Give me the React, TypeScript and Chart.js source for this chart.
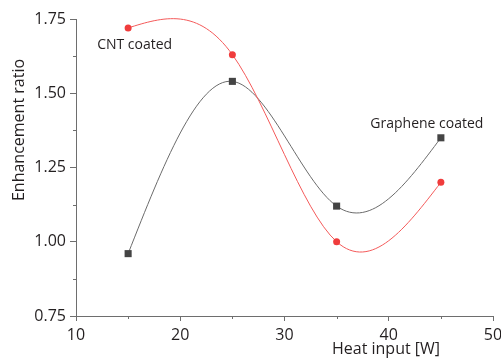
import React, { useEffect, useRef } from 'react';
import { Chart, registerables } from 'chart.js';

Chart.register(...registerables);

// ---- data ----
const heatInput = [15, 25, 35, 45];
const grapheneCoated = [0.96, 1.54, 1.12, 1.35];
const cntCoated = [1.72, 1.63, 1.0, 1.2];
const seriesNames = ['Graphene coated', 'CNT coated'];
const xTicks = [10, 20, 30, 40, 50];
const yTicks = [0.75, 1.0, 1.25, 1.5, 1.75];
const xMinorTicks = [15, 25, 35, 45];
const yMinorTicks = [0.875, 1.125, 1.375, 1.625];
const xTitle = 'Heat input [W]';
const yTitle = 'Enhancement ratio';

const FONT = "'Open Sans', 'Noto Sans', sans-serif";
const TEXT = '#231f20';
const AXIS = '#6e6e6e';
const lineColors = ['#6b6b6b', '#f45a5a'];
const pointColors = ['#444444', '#f03c3c'];

function naturalSplinePath(ctx: CanvasRenderingContext2D, pts: { x: number; y: number }[]) {
  const n = pts.length;
  if (n < 2) return;
  const h: number[] = [];
  for (let i = 0; i < n - 1; i++) h.push(pts[i + 1].x - pts[i].x);
  const M = new Array(n).fill(0);
  const m = n - 2;
  if (m > 0) {
    const a: number[] = [], b: number[] = [], c: number[] = [], d: number[] = [];
    for (let i = 1; i < n - 1; i++) {
      a.push(h[i - 1]);
      b.push(2 * (h[i - 1] + h[i]));
      c.push(h[i]);
      d.push(6 * ((pts[i + 1].y - pts[i].y) / h[i] - (pts[i].y - pts[i - 1].y) / h[i - 1]));
    }
    for (let i = 1; i < m; i++) {
      const w = a[i] / b[i - 1];
      b[i] -= w * c[i - 1];
      d[i] -= w * d[i - 1];
    }
    const sol = new Array(m).fill(0);
    for (let i = m - 1; i >= 0; i--) {
      sol[i] = (d[i] - (i < m - 1 ? c[i] * sol[i + 1] : 0)) / b[i];
    }
    for (let i = 0; i < m; i++) M[i + 1] = sol[i];
  }
  ctx.moveTo(pts[0].x, pts[0].y);
  for (let i = 0; i < n - 1; i++) {
    const hi = h[i];
    const s = (pts[i + 1].y - pts[i].y) / hi;
    const d0 = s - (hi * (2 * M[i] + M[i + 1])) / 6;
    const d1 = s + (hi * (M[i] + 2 * M[i + 1])) / 6;
    ctx.bezierCurveTo(
      pts[i].x + hi / 3, pts[i].y + (d0 * hi) / 3,
      pts[i + 1].x - hi / 3, pts[i + 1].y - (d1 * hi) / 3,
      pts[i + 1].x, pts[i + 1].y
    );
  }
}

const splinePlugin = {
  id: 'naturalSpline',
  beforeDatasetsDraw(chart: any) {
    const ctx = chart.ctx as CanvasRenderingContext2D;
    chart.data.datasets.forEach((_ds: any, i: number) => {
      const meta = chart.getDatasetMeta(i);
      const pts = meta.data.map((p: any) => ({ x: p.x, y: p.y }));
      ctx.save();
      ctx.beginPath();
      naturalSplinePath(ctx, pts);
      ctx.strokeStyle = lineColors[i];
      ctx.lineWidth = 1;
      ctx.stroke();
      ctx.restore();
    });
  },
};

const decorPlugin = {
  id: 'decor',
  afterDraw(chart: any) {
    const ctx = chart.ctx as CanvasRenderingContext2D;
    const xs = chart.scales.x;
    const ys = chart.scales.y;
    const area = chart.chartArea;
    ctx.save();
    // minor ticks
    ctx.strokeStyle = AXIS;
    ctx.lineWidth = 1;
    ctx.beginPath();
    xMinorTicks.forEach((v) => {
      const px = Math.round(xs.getPixelForValue(v)) + 0.5;
      ctx.moveTo(px, area.bottom);
      ctx.lineTo(px, area.bottom + 3);
    });
    yMinorTicks.forEach((v) => {
      const py = Math.round(ys.getPixelForValue(v)) + 0.5;
      ctx.moveTo(area.left, py);
      ctx.lineTo(area.left - 3, py);
    });
    ctx.stroke();

    // series labels
    ctx.fillStyle = TEXT;
    ctx.font = `14px ${FONT}`;
    ctx.textBaseline = 'middle';
    const gx = xs.getPixelForValue(heatInput[3]);
    const gy = ys.getPixelForValue(grapheneCoated[3]);
    ctx.textAlign = 'center';
    ctx.fillText(seriesNames[0], gx - 14, gy - 14);
    const cx = xs.getPixelForValue(heatInput[0]);
    const cy = ys.getPixelForValue(cntCoated[0]);
    ctx.textAlign = 'left';
    ctx.fillText(seriesNames[1], cx - 31, cy + 17);

    // axis titles
    ctx.font = `16px ${FONT}`;
    ctx.textAlign = 'center';
    ctx.fillText(xTitle, area.right - 107, area.bottom + 33);
    ctx.translate(19.5, area.top + 111);
    ctx.rotate(-Math.PI / 2);
    ctx.fillText(yTitle, 0, 0);
    ctx.restore();
  },
};

export default function App() {
  const ref = useRef<HTMLCanvasElement>(null);
  useEffect(() => {
    if (!ref.current) return;
    const chart = new Chart(ref.current, {
      type: 'scatter',
      data: {
        datasets: [
          {
            label: seriesNames[0],
            data: heatInput.map((x, i) => ({ x, y: grapheneCoated[i] })),
            showLine: false,
            pointStyle: 'rect',
            pointRadius: 5,
            pointBackgroundColor: pointColors[0],
            pointBorderColor: pointColors[0],
            pointBorderWidth: 0,
          },
          {
            label: seriesNames[1],
            data: heatInput.map((x, i) => ({ x, y: cntCoated[i] })),
            showLine: false,
            pointStyle: 'circle',
            pointRadius: 3.5,
            pointBackgroundColor: pointColors[1],
            pointBorderColor: pointColors[1],
            pointBorderWidth: 0,
          },
        ],
      },
      options: {
        animation: false,
        responsive: false,
        devicePixelRatio: 1,
        layout: { padding: { top: 19, right: 8, left: 0, bottom: 0 } },
        plugins: { legend: { display: false }, tooltip: { enabled: false } },
        scales: {
          x: {
            type: 'linear',
            min: 10,
            max: 50,
            afterBuildTicks: (s: any) => {
              s.ticks = xTicks.map((v) => ({ value: v }));
            },
            afterFit: (s: any) => {
              s.height = 44;
              s.paddingLeft = 0;
              s.paddingRight = 0;
            },
            ticks: {
              font: { family: FONT, size: 16 },
              color: TEXT,
              padding: 5,
              maxRotation: 0,
              callback: (v: any) => String(v),
            },
            grid: { drawOnChartArea: false, drawTicks: true, tickLength: 5, color: AXIS, tickColor: AXIS },
            border: { display: true, color: AXIS, width: 1 },
          },
          y: {
            type: 'linear',
            min: 0.75,
            max: 1.75,
            afterBuildTicks: (s: any) => {
              s.ticks = yTicks.map((v) => ({ value: v }));
            },
            afterFit: (s: any) => {
              s.width = 76;
              s.paddingTop = 0;
              s.paddingBottom = 0;
            },
            ticks: {
              font: { family: FONT, size: 16 },
              color: TEXT,
              padding: 4,
              callback: (v: any) => Number(v).toFixed(2),
            },
            grid: { drawOnChartArea: false, drawTicks: true, tickLength: 6, color: AXIS, tickColor: AXIS },
            border: { display: true, color: AXIS, width: 1 },
          },
        },
      },
      plugins: [splinePlugin, decorPlugin],
    } as any);
    return () => chart.destroy();
  }, []);
  return (
    <div style={{ position: 'fixed', left: 0, top: 0, width: 501, height: 360, background: '#fff' }}>
      <canvas ref={ref} width={501} height={360} style={{ display: 'block' }} />
    </div>
  );
}
